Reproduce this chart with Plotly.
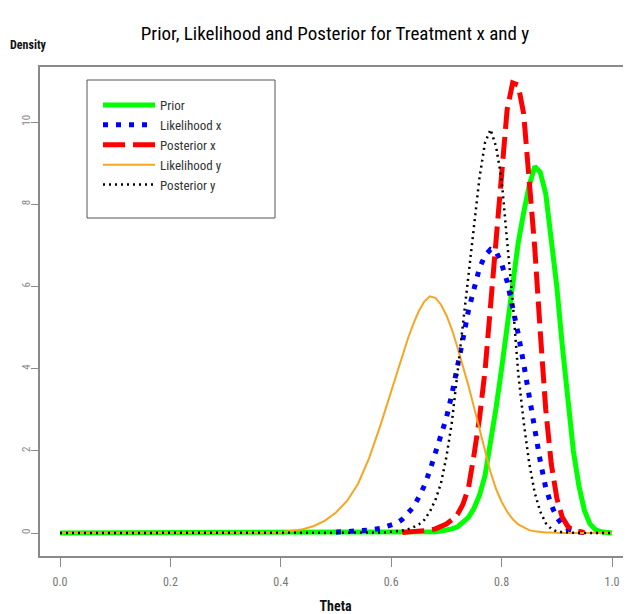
import plotly.graph_objects as go

# ---- data ----
theta = [0.0, 0.1, 0.2, 0.3, 0.36, 0.40, 0.42, 0.44, 0.46, 0.48, 0.50, 0.52, 0.54, 0.56, 0.58, 0.60,
         0.61, 0.62, 0.63, 0.64, 0.65, 0.66, 0.67, 0.68, 0.69, 0.70,
         0.71, 0.72, 0.73, 0.74, 0.75, 0.76, 0.77, 0.78, 0.79, 0.80,
         0.81, 0.82, 0.83, 0.84, 0.85, 0.86, 0.87, 0.88, 0.89, 0.90,
         0.91, 0.92, 0.93, 0.94, 0.95, 0.96, 0.97, 0.98, 0.99, 1.00]

prior = [0, 0, 0, 0, 0, 0, 0, 0, 0, 0, 0, 0, 0, 0, 0, 0,
         0, 0, 0.01, 0.01, 0.01, 0.02, 0.02, 0.03, 0.05, 0.07,
         0.10, 0.15, 0.25, 0.38, 0.60, 0.92, 1.40, 2.20, 3.05, 4.00,
         5.10, 6.20, 7.05, 7.80, 8.45, 8.92, 8.78, 8.25, 7.20, 6.00,
         4.55, 3.15, 2.00, 1.15, 0.55, 0.22, 0.08, 0.03, 0.01, 0]

# None where the curve is not visible in the reference (hidden on the baseline)
likelihood_x = [None, None, None, None, None, None, None, None, None, None, 0.02, 0.03, 0.05, 0.07, 0.11, 0.18,
                0.24, 0.33, 0.46, 0.63, 0.87, 1.15, 1.52, 1.92, 2.35, 2.80,
                3.38, 4.00, 4.72, 5.42, 6.00, 6.45, 6.75, 6.90, 6.85, 6.55,
                6.12, 5.55, 4.85, 4.12, 3.30, 2.48, 1.75, 1.10, 0.68, 0.38,
                0.20, 0.10, 0.05, 0.03, 0.01, None, None, None, None, None]

posterior_x = [None, None, None, None, None, None, None, None, None, None, None, None, None, None, None, None,
               None, 0.01, 0.02, 0.02, 0.03, 0.05, 0.07, 0.10, 0.15, 0.22,
               0.32, 0.45, 0.70, 1.10, 1.90, 2.80, 3.95, 5.55, 7.30, 9.05,
               10.30, 10.95, 10.90, 10.20, 8.60, 6.95, 4.90, 3.00, 1.68, 0.85,
               0.38, 0.16, 0.06, 0.02, 0.01, None, None, None, None, None]

likelihood_y = [0, 0, 0, 0, 0.01, 0.02, 0.05, 0.09, 0.17, 0.30, 0.50, 0.78, 1.20, 1.82, 2.60, 3.45,
                3.90, 4.32, 4.72, 5.08, 5.40, 5.63, 5.76, 5.72, 5.56, 5.30,
                4.95, 4.52, 4.06, 3.58, 3.06, 2.52, 1.98, 1.48, 1.07, 0.76,
                0.52, 0.34, 0.21, 0.13, 0.07, 0.04, 0.02, 0.01, 0.01, 0,
                0, 0, 0, 0, 0, 0, 0, 0, 0, 0]

posterior_y = [0, 0, 0, 0, 0, 0, 0, 0, 0, 0, 0, 0, 0, 0, 0.01, 0.03,
               0.04, 0.06, 0.09, 0.14, 0.21, 0.32, 0.52, 0.80, 1.20, 1.85,
               2.70, 3.90, 5.05, 6.30, 7.55, 8.65, 9.50, 9.82, 9.40, 8.60,
               7.10, 5.65, 3.90, 2.70, 1.70, 0.98, 0.52, 0.24, 0.10, 0.04,
               0.02, 0.01, 0, 0, 0, 0, 0, 0, 0, 0]

x_ticks = [0.0, 0.2, 0.4, 0.6, 0.8, 1.0]
x_tick_labels = ["0.0", "0.2", "0.4", "0.6", "0.8", "1.0"]
y_ticks = [0, 2, 4, 6, 8, 10]
y_tick_labels = ["0", "2", "4", "6", "8", "10"]

series_names = ["Prior", "Likelihood x", "Posterior x", "Likelihood y", "Posterior y"]

NARROW = "Liberation Sans Narrow, Arial Narrow, Roboto Condensed, Roboto, sans-serif"

fig = go.Figure()
fig.add_trace(go.Scatter(x=theta, y=prior, mode="lines", name=series_names[0],
                         line=dict(color="#00FF00", width=5)))
fig.add_trace(go.Scatter(x=theta, y=likelihood_x, mode="lines", name=series_names[1],
                         line=dict(color="#0000FF", width=5, dash="5px,8px")))
fig.add_trace(go.Scatter(x=theta, y=posterior_x, mode="lines", name=series_names[2],
                         line=dict(color="#FF0000", width=5, dash="22px,8px")))
fig.add_trace(go.Scatter(x=theta, y=likelihood_y, mode="lines", name=series_names[3],
                         line=dict(color="#F5A623", width=2)))
fig.add_trace(go.Scatter(x=theta, y=posterior_y, mode="lines", name=series_names[4],
                         line=dict(color="#000000", width=2.5, dash="2px,4px")))

# the page body has an 8px margin, so the figure starts at (8, 8) of the window
OFF = 8
W, H = 631 - OFF, 614 - OFF
L, R, T = 40 - OFF, 0, 67 - OFF
B = H - (556 - OFF)
pw, ph = W - L - R, H - T - B

def px_x(p):
    return (p - OFF - L) / pw

def px_y(p):
    return (H - B - (p - OFF)) / ph

fig.update_layout(
    width=W, height=H,
    margin=dict(l=L, r=R, t=T, b=B, pad=0),
    paper_bgcolor="white", plot_bgcolor="white",
    title=dict(text="Prior, Likelihood and Posterior for Treatment x and y",
               x=(335 - OFF) / W, xanchor="center", y=1 - (33 - OFF) / H, yanchor="middle",
               font=dict(family=NARROW, size=19, color="#000000")),
    showlegend=True,
    legend=dict(x=px_x(98), y=px_y(90), xanchor="left", yanchor="top",
                bgcolor="rgba(0,0,0,0)", borderwidth=0,
                font=dict(family=NARROW, size=13, color="#333333"),
                itemwidth=52, tracegroupgap=0),
    xaxis=dict(range=[-20 / 552, 571 / 552], tickvals=x_ticks, ticktext=x_tick_labels,
               showline=True, linecolor="#8a8a8a", linewidth=1.5, mirror=True,
               ticks="outside", ticklen=9, tickcolor="#8a8a8a", tickwidth=1,
               ticklabelstandoff=5,
               showgrid=False, zeroline=False,
               tickfont=dict(family=NARROW, size=12, color="#777777"),
               title=dict(text="<b>Theta</b>", standoff=14,
                          font=dict(family=NARROW, size=14, color="#111111"))),
    yaxis=dict(range=[-23 / 41.1, 466 / 41.1], tickvals=y_ticks, ticktext=y_tick_labels,
               showline=True, linecolor="#8a8a8a", linewidth=1.5, mirror=False,
               ticks="outside", ticklen=7, tickcolor="#8a8a8a", tickwidth=1,
               tickangle=-90, ticklabelstandoff=-3,
               showgrid=False, zeroline=False,
               tickfont=dict(family=NARROW, size=11, color="#888888")),
    shapes=[dict(type="rect", xref="paper", yref="paper",
                 x0=px_x(87), x1=px_x(275), y0=px_y(218), y1=px_y(80),
                 line=dict(color="#555555", width=1), fillcolor="rgba(0,0,0,0)")],
    annotations=[dict(text="<b>Density</b>", xref="paper", yref="paper",
                      x=px_x(28), y=px_y(45), xanchor="center", yanchor="middle",
                      showarrow=False,
                      font=dict(family=NARROW, size=12, color="#111111"))],
)

fig.write_html("out.html")
